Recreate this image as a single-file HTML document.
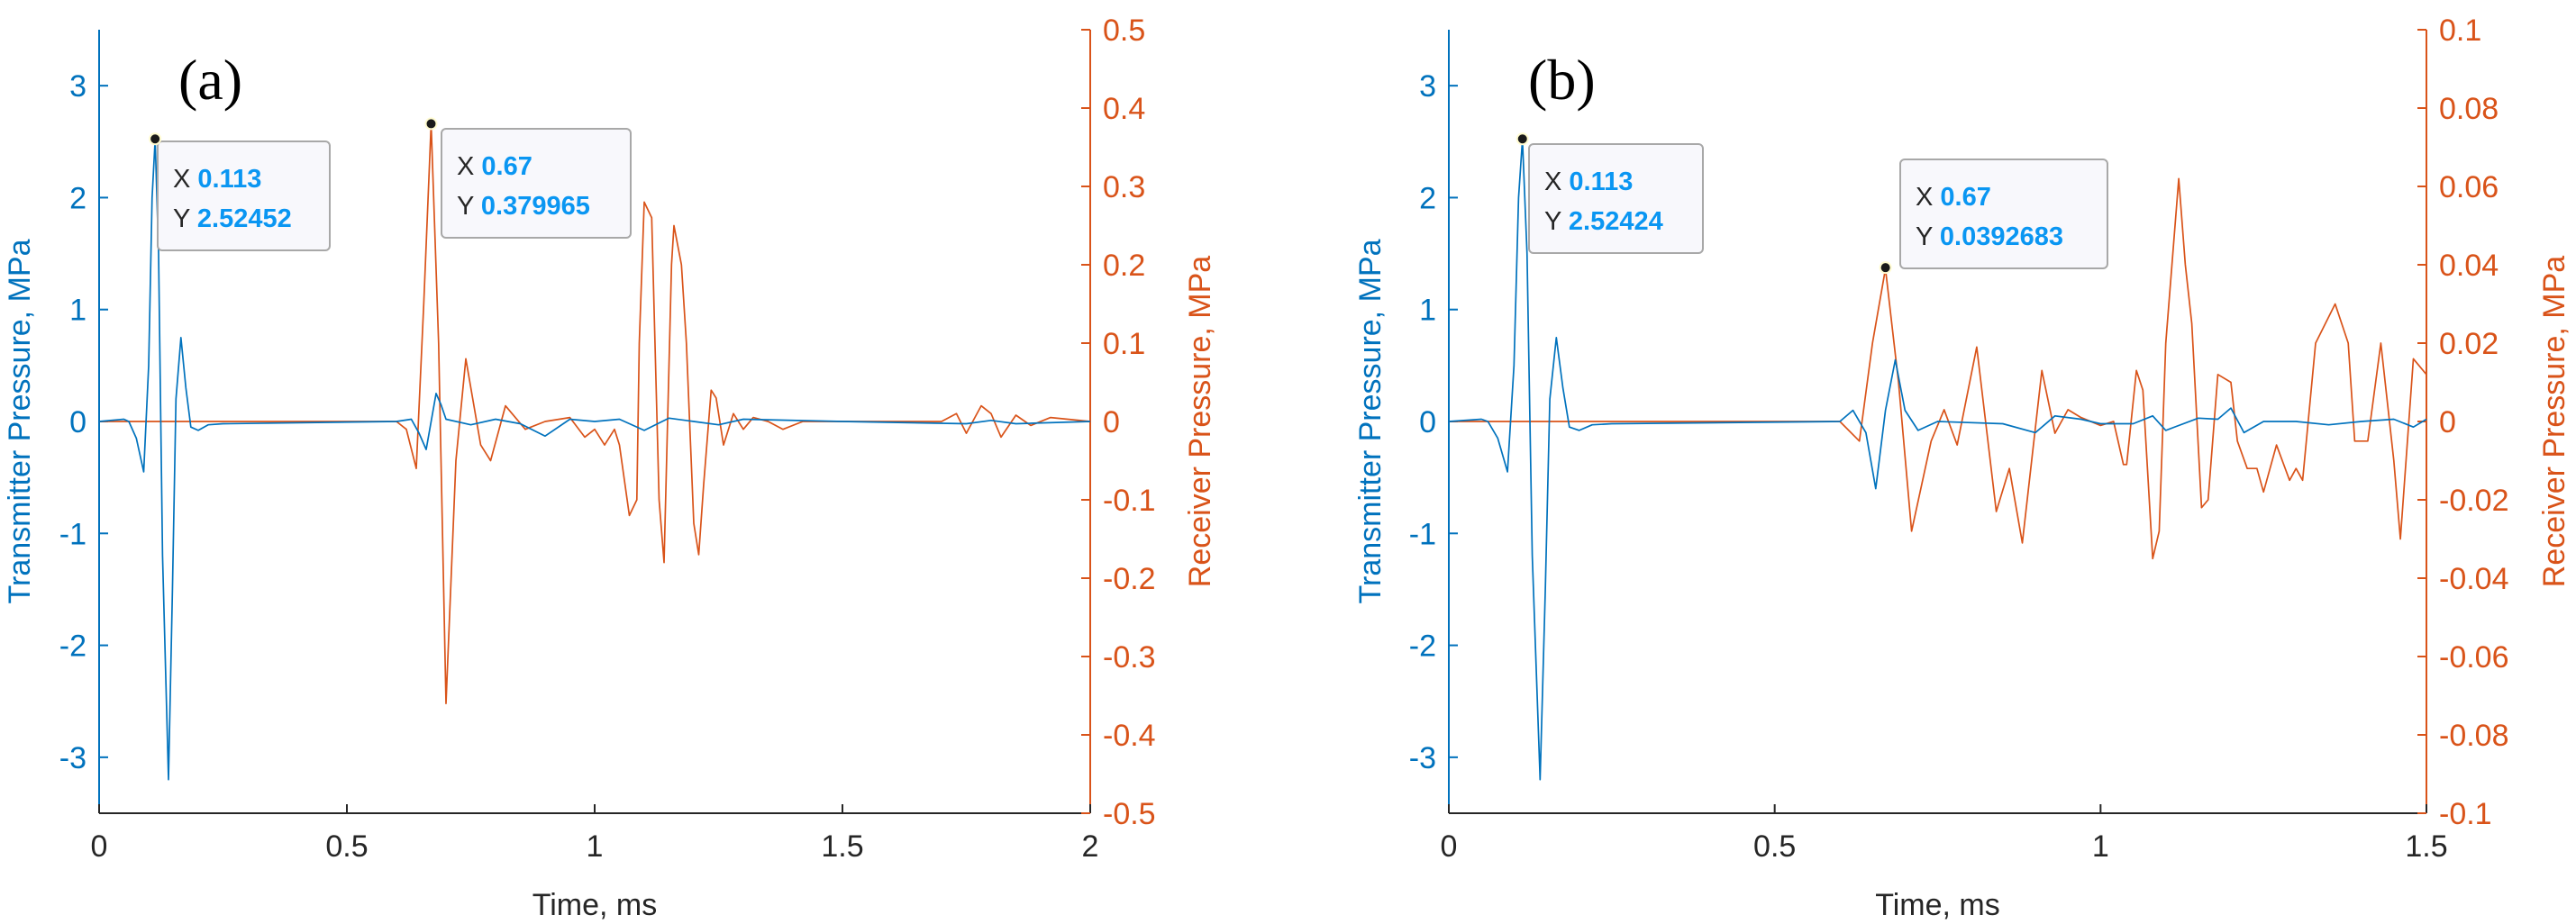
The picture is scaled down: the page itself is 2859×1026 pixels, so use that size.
<!DOCTYPE html>
<html><head><meta charset="utf-8"><style>
html,body{margin:0;padding:0;background:#fff;}
svg{display:block;font-family:"Liberation Sans",sans-serif;}
</style></head><body>
<svg id="fig" width="2859" height="1026" viewBox="0 0 2859 1026" xmlns="http://www.w3.org/2000/svg"></svg>
<script>
// ---- Data panel (a) ----
const aTxTime = [0,0.05,0.06,0.075,0.09,0.1,0.107,0.113,0.12,0.128,0.14,0.148,0.155,0.165,0.175,0.185,0.2,0.22,0.25,0.6,0.63,0.645,0.66,0.68,0.69,0.7,0.75,0.8,0.85,0.9,0.95,1.0,1.05,1.1,1.15,1.2,1.25,1.3,1.5,1.75,1.8,1.85,2.0];
const aTxVal  = [0,0.02,0,-0.15,-0.45,0.5,2.0,2.52,1.5,-1.2,-3.2,-1.5,0.2,0.75,0.3,-0.05,-0.08,-0.03,-0.02,0,0.02,-0.1,-0.25,0.25,0.15,0.02,-0.03,0.02,-0.02,-0.13,0.02,0,0.02,-0.08,0.03,0,-0.03,0.02,0,-0.02,0.01,-0.02,0];
const aRxTime = [0,0.6,0.62,0.64,0.655,0.67,0.685,0.7,0.72,0.74,0.77,0.79,0.82,0.86,0.9,0.95,0.98,1.0,1.02,1.04,1.05,1.07,1.085,1.09,1.1,1.115,1.13,1.14,1.155,1.16,1.175,1.185,1.2,1.21,1.22,1.235,1.245,1.26,1.28,1.3,1.32,1.35,1.38,1.42,1.5,1.7,1.73,1.75,1.78,1.8,1.82,1.85,1.88,1.92,2.0];
const aRxVal  = [0,0,-0.01,-0.06,0.15,0.38,0.1,-0.36,-0.05,0.08,-0.03,-0.05,0.02,-0.01,0,0.005,-0.02,-0.01,-0.03,-0.01,-0.03,-0.12,-0.1,0.1,0.28,0.26,-0.1,-0.18,0.2,0.25,0.2,0.1,-0.13,-0.17,-0.08,0.04,0.03,-0.03,0.01,-0.01,0.005,0,-0.01,0,0,0,0.01,-0.015,0.02,0.01,-0.02,0.008,-0.005,0.005,0];
// ---- Data panel (b) ----
const bTxTime = [0,0.05,0.06,0.075,0.09,0.1,0.107,0.113,0.12,0.128,0.14,0.148,0.155,0.165,0.175,0.185,0.2,0.22,0.25,0.6,0.62,0.64,0.655,0.67,0.685,0.7,0.72,0.75,0.85,0.9,0.93,0.97,1.0,1.05,1.08,1.1,1.15,1.18,1.2,1.22,1.25,1.3,1.35,1.4,1.45,1.48,1.5];
const bTxVal  = [0,0.02,0,-0.15,-0.45,0.5,2.0,2.52,1.5,-1.2,-3.2,-1.5,0.2,0.75,0.3,-0.05,-0.08,-0.03,-0.02,0,0.1,-0.1,-0.6,0.1,0.55,0.1,-0.08,0,-0.02,-0.1,0.05,0.02,-0.02,-0.02,0.05,-0.08,0.03,0.02,0.12,-0.1,0,0,-0.03,0,0.02,-0.05,0.02];
const bRxTime = [0,0.6,0.63,0.65,0.67,0.69,0.71,0.74,0.76,0.78,0.81,0.84,0.86,0.88,0.91,0.93,0.95,0.97,1.0,1.02,1.035,1.04,1.055,1.065,1.08,1.09,1.1,1.12,1.13,1.14,1.155,1.165,1.18,1.2,1.21,1.225,1.24,1.25,1.27,1.29,1.3,1.31,1.33,1.36,1.38,1.39,1.41,1.43,1.45,1.46,1.48,1.5];
const bRxVal  = [0,0,-0.005,0.02,0.039,0.01,-0.028,-0.005,0.003,-0.006,0.019,-0.023,-0.012,-0.031,0.013,-0.003,0.003,0.001,-0.001,0,-0.011,-0.011,0.013,0.008,-0.035,-0.028,0.02,0.062,0.04,0.025,-0.022,-0.02,0.012,0.01,-0.005,-0.012,-0.012,-0.018,-0.006,-0.015,-0.012,-0.015,0.02,0.03,0.02,-0.005,-0.005,0.02,-0.01,-0.03,0.016,0.012];

const xTicksA = [0,0.5,1,1.5,2];
const xTicksB = [0,0.5,1,1.5];
const leftTicks = [-3,-2,-1,0,1,2,3];
const rightTicksA = [-0.5,-0.4,-0.3,-0.2,-0.1,0,0.1,0.2,0.3,0.4,0.5];
const rightTicksB = [-0.1,-0.08,-0.06,-0.04,-0.02,0,0.02,0.04,0.06,0.08,0.1];

const NS="http://www.w3.org/2000/svg";
const svg=document.getElementById('fig');
const BLUE="#0072BD", ORANGE="#D95319";
function el(tag,attrs,parent,text){const e=document.createElementNS(NS,tag);for(const k in attrs)e.setAttribute(k,attrs[k]);if(text!==undefined)e.textContent=text;(parent||svg).appendChild(e);return e;}

function panel(cfg){
  const g=el('g',{});
  
  
  const T=33,B=903;
  const sx=v=>cfg.x0+(v-0)/(cfg.xmax)*(cfg.x1-cfg.x0);
  const syL=v=>T+(3.5-v)/7*(B-T);
  const syR=v=>T+(cfg.rmax-v)/(2*cfg.rmax)*(B-T);
  let a=el('line',{x1:cfg.x0,y1:B,x2:cfg.x1,y2:B,stroke:"#262626","stroke-width":2},g);
  
  
  a=el('line',{x1:cfg.x0,y1:T,x2:cfg.x0,y2:B,stroke:BLUE,"stroke-width":2},g);
  
  
  a=el('line',{x1:cfg.x1,y1:T,x2:cfg.x1,y2:B,stroke:ORANGE,"stroke-width":2},g);
  
  
  cfg.xt.forEach(v=>{
    el('line',{x1:sx(v),y1:B,x2:sx(v),y2:B-10,stroke:"#262626","stroke-width":2},g);
    const t=el('text',{x:sx(v),y:951,"font-size":34,fill:"#262626","text-anchor":"middle"},g,String(v));
    
    
  });
  leftTicks.forEach(v=>{
    el('line',{x1:cfg.x0,y1:syL(v),x2:cfg.x0+10,y2:syL(v),stroke:BLUE,"stroke-width":2},g);
    const t=el('text',{x:cfg.x0-14,y:syL(v)+12,"font-size":34,fill:BLUE,"text-anchor":"end"},g,String(v));
    
    
  });
  cfg.rt.forEach(v=>{
    el('line',{x1:cfg.x1,y1:syR(v),x2:cfg.x1-10,y2:syR(v),stroke:ORANGE,"stroke-width":2},g);
    const t=el('text',{x:cfg.x1+14,y:syR(v)+12,"font-size":34,fill:ORANGE},g,String(v));
    
    
  });
  let t=el('text',{x:(cfg.x0+cfg.x1)/2,y:1016,"font-size":34,fill:"#262626","text-anchor":"middle"},g,"Time, ms");
  
  
  t=el('text',{transform:`translate(${cfg.ly},${(T+B)/2}) rotate(-90)`,"font-size":34,fill:BLUE,"text-anchor":"middle"},g,"Transmitter Pressure, MPa");
  
  
  t=el('text',{transform:`translate(${cfg.ry},${(T+B)/2}) rotate(-90)`,"font-size":34,fill:ORANGE,"text-anchor":"middle"},g,"Receiver Pressure, MPa");
  
  
  const rx=cfg.rxT.map((v,i)=>sx(v).toFixed(1)+','+syR(cfg.rxV[i]).toFixed(1)).join(' ');
  let p=el('polyline',{points:rx,fill:"none",stroke:ORANGE,"stroke-width":1.7,"stroke-linejoin":"round"},g);
  
  
  const tx=cfg.txT.map((v,i)=>sx(v).toFixed(1)+','+syL(cfg.txV[i]).toFixed(1)).join(' ');
  p=el('polyline',{points:tx,fill:"none",stroke:BLUE,"stroke-width":1.7,"stroke-linejoin":"round"},g);
  
  
  t=el('text',{x:cfg.x0+88,y:110,"font-size":64,fill:"#000","font-family":"Liberation Serif, serif"},g,cfg.label);
  
  
  cfg.tips.forEach(tp=>{
    const mx=sx(tp.x), my=tp.axis==='L'?syL(tp.y):syR(tp.y);
    const dg=el('g',{},g);
    
    
    el('rect',{x:tp.bx,y:tp.by,width:tp.bw,height:121,rx:5,fill:"#f8f8fc",stroke:"#a8a8a8","stroke-width":2},dg);
    el('circle',{cx:mx,cy:my,r:6,fill:"#1a1a1a",stroke:"#fffbd0","stroke-width":2},dg);
    const l1=el('text',{x:tp.bx+17,y:tp.by+51,"font-size":29,fill:"#262626"},dg);
    el('tspan',{},l1,"X ");
    el('tspan',{fill:"#0a96f2","font-weight":"bold"},l1,tp.xs);
    const l2=el('text',{x:tp.bx+17,y:tp.by+95,"font-size":29,fill:"#262626"},dg);
    el('tspan',{},l2,"Y ");
    el('tspan',{fill:"#0a96f2","font-weight":"bold"},l2,tp.ys);
  });
}
panel({id:'a',x0:110,x1:1210,xmax:2,rmax:0.5,xt:xTicksA,rt:rightTicksA,ly:33,ry:1343,label:"(a)",
  txT:aTxTime,txV:aTxVal,rxT:aRxTime,rxV:aRxVal,
  tips:[{axis:'L',x:0.113,y:2.52452,xs:"0.113",ys:"2.52452",bx:175,by:157,bw:191},
        {axis:'R',x:0.67,y:0.379965,xs:"0.67",ys:"0.379965",bx:490,by:143,bw:210}]});
panel({id:'b',x0:1608,x1:2693,xmax:1.5,rmax:0.1,xt:xTicksB,rt:rightTicksB,ly:1532,ry:2846,label:"(b)",
  txT:bTxTime,txV:bTxVal,rxT:bRxTime,rxV:bRxVal,
  tips:[{axis:'L',x:0.113,y:2.52424,xs:"0.113",ys:"2.52424",bx:1697,by:160,bw:193},
        {axis:'R',x:0.67,y:0.0392683,xs:"0.67",ys:"0.0392683",bx:2109,by:177,bw:230}]});
</script>
</body></html>
